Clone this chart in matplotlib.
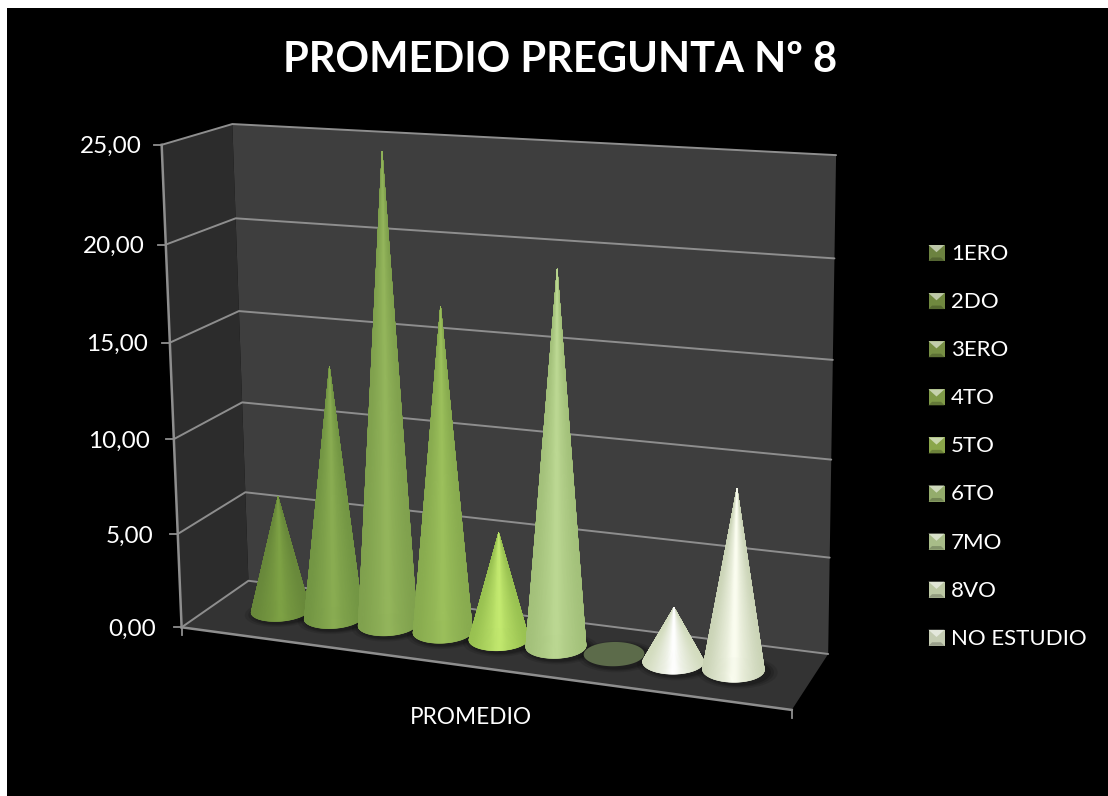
import numpy as np
import matplotlib
matplotlib.use("Agg")
import matplotlib.pyplot as plt
from matplotlib.collections import PolyCollection
from matplotlib.patches import Polygon, Rectangle

categories = ["1ERO", "2DO", "3ERO", "4TO", "5TO", "6TO", "7MO", "8VO", "NO ESTUDIO"]
values = [6.2, 13.4, 24.6, 17.0, 5.6, 19.3, 0.0, 2.8, 9.2]
y_ticks = [0, 5, 10, 15, 20, 25]
y_labels = ["0,00", "5,00", "10,00", "15,00", "20,00", "25,00"]
x_label = "PROMEDIO"
title = "PROMEDIO PREGUNTA Nº 8"

edge_cols = ["#638238", "#6d9040", "#7b9c4a", "#83a64c", "#8fb84a", "#9dbb74", "#5c6b4a", "#c9d4b0", "#c0cbaa"]
mid_cols = ["#7ea245", "#8aad52", "#94b65c", "#9cc05c", "#c4ea70", "#bcd893", "#5c6b4a", "#ffffff", "#fbfdf0"]
legend_cols = ["#6c8240", "#70883f", "#778f44", "#7f9a48", "#8aa64a", "#94ac6c", "#a8bc88", "#bcc8a4", "#c4ccb2"]

plt.rcParams["font.family"] = ["Lato", "DejaVu Sans"]
W, H = 1108, 796
fig = plt.figure(figsize=(W / 100, H / 100), dpi=100, facecolor="white")
ax = fig.add_axes([0, 0, 1, 1])
ax.set_xlim(0, W)
ax.set_ylim(H, 0)
ax.axis("off")
ax.add_patch(Rectangle((7, 8), W - 7, H - 8, fc="black", ec="none", zorder=0))

# projective camera fitted to the chart box corners (u across, v depth, w value)
YMAX = y_ticks[-1]
world = [(0, 0, 0), (1, 0, 0), (1, 1, 0), (0, 1, 0), (0, 0, 1), (0, 1, 1), (1, 1, 1)]
screen = [(182, 628), (792, 709), (828, 655), (248, 580), (161, 145), (233, 124), (836, 155)]
A = []
for (a, b, c), (x, y) in zip(world, screen):
    A.append([a, b, c, 1, 0, 0, 0, 0, -x * a, -x * b, -x * c, -x])
    A.append([0, 0, 0, 0, a, b, c, 1, -y * a, -y * b, -y * c, -y])
P = np.linalg.svd(np.array(A, float))[2][-1].reshape(3, 4)


def proj(u, v, val):
    u, v, val = np.broadcast_arrays(np.asarray(u, float), np.asarray(v, float), np.asarray(val, float))
    X = np.stack([u, v, val / YMAX, np.ones_like(u)])
    q = P @ X.reshape(4, -1)
    return (q[0] / q[2]).reshape(u.shape), (q[1] / q[2]).reshape(u.shape)


def poly(pts, **kw):
    ax.add_patch(Polygon(np.column_stack(proj(*zip(*pts))), closed=True, **kw))


# walls and floor
poly([(0, 0, 0), (0, 1, 0), (0, 1, YMAX), (0, 0, YMAX)], fc="#2c2c2c", ec="none", zorder=1)
poly([(0, 1, 0), (1, 1, 0), (1, 1, YMAX), (0, 1, YMAX)], fc="#3e3e3e", ec="none", zorder=1)
poly([(0, 0, 0), (1, 0, 0), (1, 1, 0), (0, 1, 0)], fc="#333333", ec="none", zorder=1)

GRID = "#8e8e8e"
for t in y_ticks:
    x, y = proj([0, 0, 1], [0, 1, 1], [t, t, t])
    ax.plot(x, y, color=GRID, lw=1.4, zorder=2, solid_capstyle="round")
    ax.plot([x[0] - 8, x[0]], [y[0], y[0]], color=GRID, lw=1.3, zorder=2)
for t, lab in zip(y_ticks, y_labels):
    x, y = proj(0, 0, t)
    ax.text(float(x) - 26 + 6 * t / YMAX, float(y) + 2, lab, color="white", fontsize=17.5, ha="right", va="center", zorder=6)
x, y = proj([0, 0], [0, 0], [0, YMAX])
ax.plot(x, y, color=GRID, lw=1.8, zorder=2)
x, y = proj([0, 1], [0, 0], [0, 0])
ax.plot(x, y, color=GRID, lw=1.8, zorder=2)
ax.plot([x[0], x[0]], [y[0], y[0] + 8], color=GRID, lw=1.3, zorder=2)
ax.plot([x[1], x[1]], [y[1], y[1] + 8], color=GRID, lw=1.3, zorder=2)

# cones
U0, DU, RU, RV, V0, LEAN = 0.115, 0.0955, 0.0465, 0.22, 0.525, 0.009
theta = np.linspace(0, 2 * np.pi, 181)
for i, val in enumerate(values):
    uc = U0 + i * DU
    # soft shadow on the floor
    for k, a in zip([1.3, 1.18, 1.08], [0.10, 0.14, 0.18]):
        sx, sy = proj(uc + 0.008 + RU * k * np.cos(theta), V0 - 0.03 + RV * k * np.sin(theta), 0 * theta)
        ax.fill(sx, sy, color="black", alpha=a, lw=0, zorder=3 + i * 0.01)
    bx, by = proj(uc + RU * np.cos(theta), V0 + RV * np.sin(theta), 0 * theta)
    ax.fill(bx, by, color=edge_cols[i], lw=0, zorder=3.1 + i * 0.1)
    if val <= 0:
        continue
    ax_, ay_ = proj(uc + LEAN * val / YMAX, V0, val)
    cx, rx = bx.mean(), (bx.max() - bx.min()) / 2
    e = np.array(matplotlib.colors.to_rgb(edge_cols[i]))
    m = np.array(matplotlib.colors.to_rgb(mid_cols[i]))
    tris, cols, depth = [], [], []
    for j in range(len(theta) - 1):
        tris.append([(float(ax_), float(ay_)), (bx[j], by[j]), (bx[j + 1], by[j + 1])])
        s = ((bx[j] + bx[j + 1]) / 2 - cx) / rx
        t = 0.78 * np.exp(-(s / 0.8) ** 2) + 0.22 * np.exp(-(s / 0.2) ** 2)
        cols.append(e + (m - e) * t)
        depth.append(by[j] + by[j + 1])
    order = np.argsort(depth)
    pc = PolyCollection([tris[o] for o in order], facecolors=[cols[o] for o in order],
                        edgecolors=[cols[o] for o in order], linewidths=0.4, zorder=3.15 + i * 0.1)
    ax.add_collection(pc)

# text
ax.text(560, 60, title, color="white", fontsize=30, fontweight="bold", ha="center", va="center", zorder=6)
ax.text(471, 718, x_label, color="white", fontsize=16.3, ha="center", va="center", zorder=6)

# legend
LX, LY0, LDY, S = 928.5, 253, 48.1, 16
for i, lab in enumerate(categories):
    yc = LY0 + i * LDY
    x0, y0, x1, y1 = LX, yc - S / 2, LX + S, yc + S / 2
    d = S * 0.22
    base = np.array(matplotlib.colors.to_rgb(legend_cols[i]))
    ax.add_patch(Rectangle((x0, y0), S, S, fc=base, ec="none", zorder=5))
    ax.add_patch(Polygon([(x0, y0), (x1, y0), (x0 + S / 2, y0 + S * 0.45)],
                         fc=base + (1 - base) * 0.55, ec="none", zorder=5))
    ax.add_patch(Polygon([(x0, y1), (x1, y1), (x1 - d, y1 - d), (x0 + d, y1 - d)], fc=base * 0.78, ec="none", zorder=5))
    ax.text(951, yc + 1, lab, color="white", fontsize=16, ha="left", va="center", zorder=6)

fig.savefig("out.png", dpi=100, facecolor="white")
